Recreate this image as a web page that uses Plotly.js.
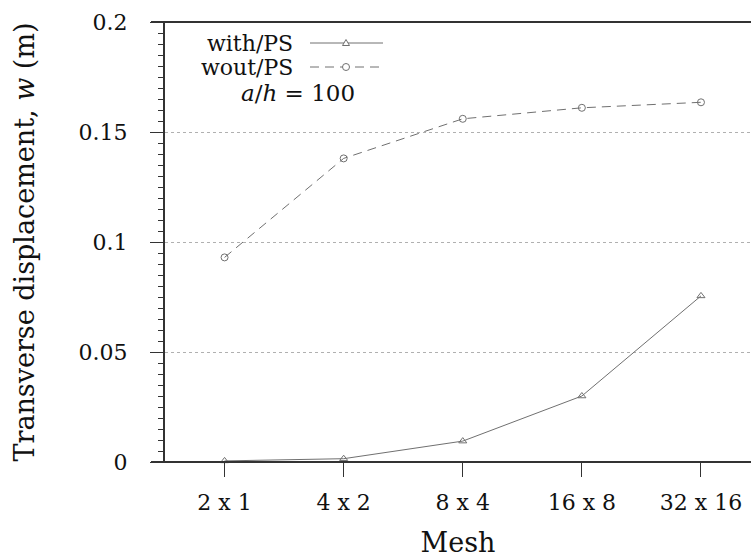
<!DOCTYPE html>
<html>
<head>
<meta charset="utf-8">
<script src="https://cdn.plot.ly/plotly-3.0.1.min.js"></script>
<style>html,body{margin:0;padding:0;background:#fff;}#chart{width:751px;height:558px;}</style>
</head>
<body>
<div id="chart"></div>
<script>
const meshLabels = ["2 x 1", "4 x 2", "8 x 4", "16 x 8", "32 x 16"];
const withPS = [0.0005, 0.0015, 0.0095, 0.030, 0.0755];
const woutPS = [0.093, 0.138, 0.156, 0.161, 0.1635];
const yTicks = [0, 0.05, 0.1, 0.15, 0.2];
const yTickText = ["0", "0.05", "0.1", "0.15", "0.2"];

const FONT = "DejaVu Serif";
const LINE = "#707070";
const DASH = "9px,6px";

const traces = [
  {
    x: meshLabels, y: withPS, name: "with/PS", type: "scatter", mode: "lines+markers",
    line: {color: LINE, width: 1},
    marker: {symbol: "triangle-up-open", size: 7, color: LINE, line: {width: 1}},
    cliponaxis: false
  },
  {
    x: meshLabels, y: woutPS, name: "wout/PS", type: "scatter", mode: "lines+markers",
    line: {color: LINE, width: 1, dash: DASH},
    marker: {symbol: "circle-open", size: 7, color: LINE, line: {width: 1}},
    cliponaxis: false
  }
];

// legend key (paper coordinates)
const px = v => (v - 165) / 586;
const py = v => 1 - (v - 22) / 440;
const lx0 = px(310), lx1 = px(383), lxm = px(346);
const ly1 = py(43), ly2 = py(67);
const shapes = [
  {type: "line", xref: "paper", yref: "paper", x0: px(151), x1: 1, y0: 0, y1: 0, line: {color: "#333", width: 2}},
  {type: "line", xref: "paper", yref: "paper", x0: px(151), x1: 1, y0: 1, y1: 1, line: {color: "#333", width: 2}},
  {type: "line", xref: "paper", yref: "paper", x0: lx0, x1: lx1, y0: ly1, y1: ly1, line: {color: LINE, width: 1}},
  {type: "line", xref: "paper", yref: "paper", x0: lx0, x1: lx1, y0: ly2, y1: ly2, line: {color: LINE, width: 1, dash: DASH}},
  {type: "path", xref: "paper", yref: "paper", xsizemode: "pixel", ysizemode: "pixel", xanchor: lxm, yanchor: ly1,
   path: "M-3.5,-2.5 L3.5,-2.5 L0,3.5 Z", fillcolor: "#fff", line: {color: LINE, width: 1}},
  {type: "circle", xref: "paper", yref: "paper", xsizemode: "pixel", ysizemode: "pixel", xanchor: lxm, yanchor: ly2,
   x0: -3.5, x1: 3.5, y0: -3.5, y1: 3.5, fillcolor: "#fff", line: {color: LINE, width: 1}}
];

const annotations = [
  {xref: "paper", yref: "paper", x: px(294), y: ly1, xanchor: "right", yanchor: "middle", text: "with/PS", showarrow: false, borderpad: 0, font: {family: FONT, size: 22, color: "#111"}},
  {xref: "paper", yref: "paper", x: px(294), y: ly2, xanchor: "right", yanchor: "middle", text: "wout/PS", showarrow: false, borderpad: 0, font: {family: FONT, size: 22, color: "#111"}},
  {xref: "paper", yref: "paper", x: px(298), y: py(93), xanchor: "center", yanchor: "middle", text: "<i>a</i>/<i>h</i> = 100", showarrow: false, borderpad: 0, font: {family: FONT, size: 23, color: "#111"}}
];

const layout = {
  width: 751, height: 558,
  margin: {l: 165, r: 0, t: 22, b: 96},
  paper_bgcolor: "#fff", plot_bgcolor: "#fff",
  showlegend: false,
  font: {family: FONT, size: 22, color: "#111"},
  xaxis: {
    type: "category", range: [-0.5, 4.42],
    showline: false, showgrid: false, zeroline: false,
    ticks: "outside", ticklen: 14, tickwidth: 1, tickcolor: "#333",
    ticklabelstandoff: 7,
    tickfont: {family: FONT, size: 22, color: "#111"},
    title: {text: "Mesh", font: {family: FONT, size: 27, color: "#111"}, standoff: 18}
  },
  yaxis: {
    range: [0, 0.2], tickvals: yTicks, ticktext: yTickText,
    showline: true, linecolor: "#333", linewidth: 2,
    showgrid: true, gridcolor: "#b0b0b0", griddash: "dot", gridwidth: 1,
    zeroline: false,
    ticks: "outside", ticklen: 13, tickcolor: "#333",
    ticklabelstandoff: 18,
    minor: {dtick: 0.005, ticks: "outside", ticklen: 5, tickcolor: "#333", showgrid: false},
    tickfont: {family: FONT, size: 22, color: "#111"},
    title: {text: "Transverse displacement, <i>w</i> (m)", font: {family: FONT, size: 27, color: "#111"}, standoff: 36}
  },
  shapes: shapes,
  annotations: annotations
};

Plotly.newPlot("chart", traces, layout, {displayModeBar: false, staticPlot: true});
</script>
</body>
</html>
